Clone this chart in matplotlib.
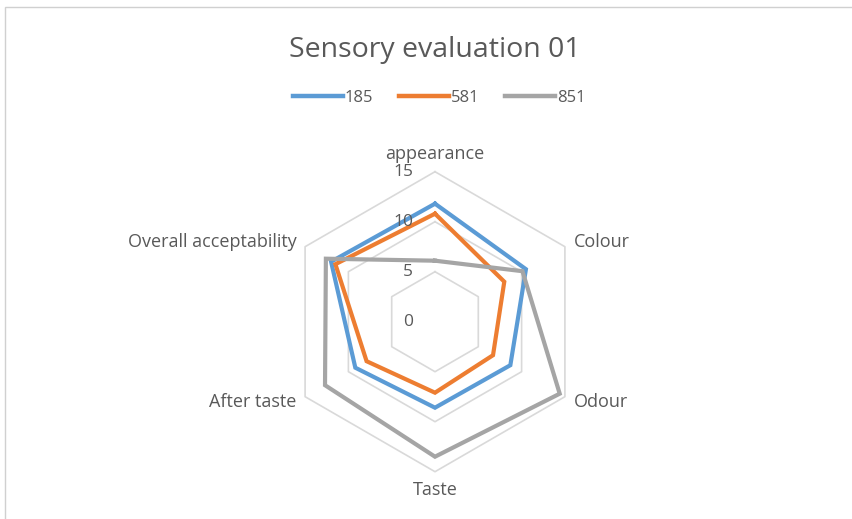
import numpy as np
import matplotlib
matplotlib.use("Agg")
import matplotlib.pyplot as plt
import matplotlib.transforms as mtransforms
from matplotlib.patches import Rectangle
from matplotlib.lines import Line2D

categories = ["appearance", "Colour", "Odour", "Taste", "After taste", "Overall acceptability"]
series_names = ["185", "581", "851"]
s185 = [11.8, 10.5, 8.7, 8.6, 9.2, 12.0]
s581 = [10.8, 8.0, 6.7, 7.1, 7.9, 11.5]
s851 = [6.1, 10.1, 14.4, 13.5, 12.7, 12.6]
ticks = [0, 5, 10, 15]
colors = ["#5B9BD5", "#ED7D31", "#A5A5A5"]

plt.rcParams['font.family'] = ['Open Sans', 'DejaVu Sans']
W, H = 852, 519
fig = plt.figure(figsize=(W / 100, H / 100), dpi=100)

# chart border (clipped at right/bottom as in reference)
fig.patches.append(Rectangle((5 / W, -0.1), 1.2, 1 - 7 / H + 0.1, transform=fig.transFigure,
                             fill=False, edgecolor="#d0d0d0", lw=1.0))

cx, cy, R = 435, 321.7, 150
ax = fig.add_axes([(cx - R) / W, (H - cy - R) / H, 2 * R / W, 2 * R / H], projection="polar")
ax.set_theta_offset(np.pi / 2)
ax.set_theta_direction(-1)
ax.set_ylim(0, 15)
ax.grid(False)
ax.spines["polar"].set_visible(False)
ax.set_xticks([])
ax.set_yticks([])
ax.patch.set_alpha(0)

n = len(categories)
angles = np.linspace(0, 2 * np.pi, n, endpoint=False)
closed = np.concatenate([angles, angles[:1]])

# hexagonal gridlines
for t in ticks[1:]:
    ax.plot(closed, [t] * (n + 1), color="#d9d9d9", lw=1.2, zorder=1, clip_on=False)

for vals, c in zip([s185, s581, s851], colors):
    v = list(vals) + [vals[0]]
    ax.plot(closed, v, color=c, lw=3.0, zorder=3, solid_joinstyle="miter", clip_on=False)

# value axis labels
off = mtransforms.offset_copy(ax.transData, fig=fig, x=-22, y=0, units="dots")
for t in ticks:
    ax.text(0, t, str(t), transform=off, ha="right", va="center", fontsize=12.5,
            color="#595959", zorder=5)

# category labels
for a, lab in zip(angles, categories):
    deg = np.degrees(a)
    if abs(deg) < 1:
        ha, va, r = "center", "bottom", 15.9
    elif abs(deg - 180) < 1:
        ha, va, r = "center", "top", 15.9
    elif deg < 180:
        ha, va, r = "left", "center", 16.0
    else:
        ha, va, r = "right", "center", 16.0
    ax.text(a, r, lab, ha=ha, va=va, fontsize=13, color="#595959")

fig.text(cx / W, 1 - 50 / H, "Sensory evaluation 01", ha="center", va="center",
         fontsize=20.5, color="#595959")

handles = [Line2D([], [], color=c, lw=3.2) for c in colors]
fig.legend(handles, series_names, loc="center", bbox_to_anchor=(439 / W, 1 - 98 / H),
           ncol=3, frameon=False, fontsize=12, handlelength=3.0, handletextpad=0.15,
           columnspacing=1.5, labelcolor="#595959")

fig.savefig("out.png", dpi=100)
